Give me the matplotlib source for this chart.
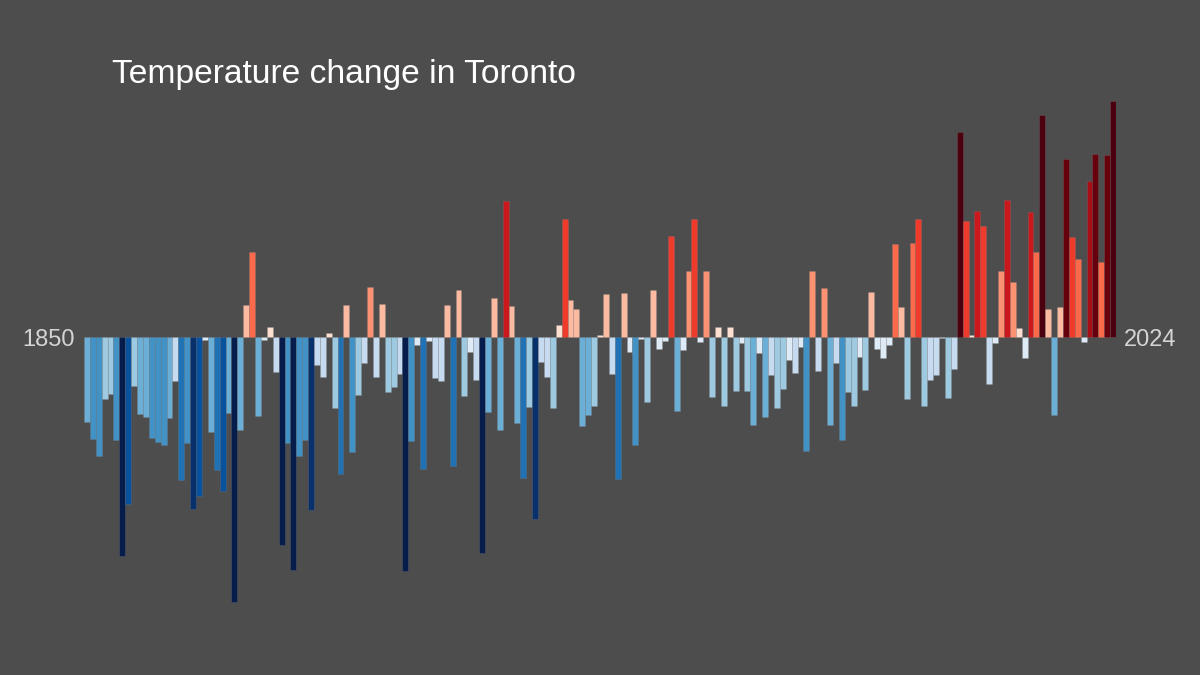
import matplotlib
matplotlib.use("Agg")
import matplotlib.pyplot as plt
from matplotlib.colors import ListedColormap, BoundaryNorm

first_year = 1850
last_year = 2024
title = "Temperature change in Toronto"

# Annual temperature anomalies (deg C)
anomalies = [
    -0.85, -1.02, -1.19, -0.62, -0.57, -1.03, -2.19, -1.67, -0.49, -0.77,
    -0.80, -1.01, -1.05, -1.08, -0.81, -0.44, -1.43, -1.06, -1.72, -1.59,
    -0.03, -0.95, -1.33, -1.54, -0.76, -2.65, -0.93, 0.32, 0.85, -0.79,
    -0.03, 0.10, -0.35, -2.08, -1.06, -2.33, -1.19, -1.03, -1.73, -0.28,
    -0.40, 0.04, -0.71, -1.37, 0.32, -1.15, -0.58, -0.26, 0.50, -0.40,
    0.33, -0.55, -0.50, -0.37, -2.34, -1.04, -0.08, -1.32, -0.04, -0.41,
    -0.44, 0.32, -1.29, 0.47, -0.59, -0.15, -0.43, -2.16, -0.75, 0.39,
    -0.93, 1.36, 0.31, -0.86, -1.41, -0.70, -1.82, -0.25, -0.40, -0.71,
    0.12, 1.18, 0.37, 0.28, -0.89, -0.78, -0.69, 0.02, 0.43, -0.37,
    -1.42, 0.44, -0.15, -1.08, -0.02, -0.65, 0.47, -0.12, -0.04, 1.01,
    -0.74, -0.13, 0.66, 1.18, -0.05, 0.66, -0.60, 0.10, -0.69, 0.10,
    -0.54, -0.06, -0.54, -0.88, -0.16, -0.80, -0.38, -0.71, -0.52, -0.23,
    -0.36, -0.10, -1.14, 0.66, -0.34, 0.49, -0.88, -0.26, -1.03, -0.55,
    -0.69, -0.20, -0.53, 0.45, -0.12, -0.21, -0.08, 0.93, 0.30, -0.62,
    0.94, 1.18, -0.69, -0.43, -0.38, -0.01, -0.61, -0.32, 2.05, 1.16,
    0.02, 1.26, 1.11, -0.47, -0.06, 0.66, 1.37, 0.55, 0.09, -0.21,
    1.25, 0.85, 2.22, 0.28, -0.78, 0.30, 1.78, 1.00, 0.78, -0.05,
    1.56, 1.83, 0.75, 1.82, 2.36,
]
years = list(range(first_year, last_year + 1))

palette = ['#061c4a', '#08306b', '#08519c', '#2171b5', '#4292c6', '#6baed6',
           '#9ecae1', '#c6dbef', '#deebf7', '#fee0d2', '#fcbba1', '#fc9272',
           '#fb6a4a', '#ef3b2c', '#cb181d', '#a50f15', '#67000d', '#4a000f']
bounds = [-10, -1.92, -1.68, -1.44, -1.2, -0.96, -0.72, -0.48, -0.24, 0,
          0.24, 0.48, 0.72, 0.96, 1.2, 1.44, 1.68, 1.92, 10]
cmap = ListedColormap(palette)
norm = BoundaryNorm(bounds, cmap.N)

bg = '#4d4d4d'
fig = plt.figure(figsize=(12, 6.75), dpi=100, facecolor=bg)
ax = fig.add_axes([84 / 1200, 0, 1032 / 1200, 1])
ax.set_facecolor(bg)

colors = [cmap(norm(v)) for v in anomalies]
ax.bar(years, anomalies, width=1.0, color=colors,
       edgecolor=(0.55, 0.55, 0.55, 0.35), linewidth=0.4)

ax.set_xlim(first_year - 0.5, last_year + 0.5)
ax.set_ylim(-3.38, 3.37)
ax.axis('off')

fig.text(112 / 1200, 1 - 83 / 675, title, color='white',
         fontsize=24.2, family='Liberation Sans', ha='left', va='baseline')
fig.text(75 / 1200, 1 - 346 / 675, str(first_year), color='#d4d4d4',
         fontsize=17, family='Liberation Sans', ha='right', va='baseline')
fig.text(1124 / 1200, 1 - 346 / 675, str(last_year), color='#d4d4d4',
         fontsize=17, family='Liberation Sans', ha='left', va='baseline')

fig.savefig('out.png', dpi=100, facecolor=bg)
